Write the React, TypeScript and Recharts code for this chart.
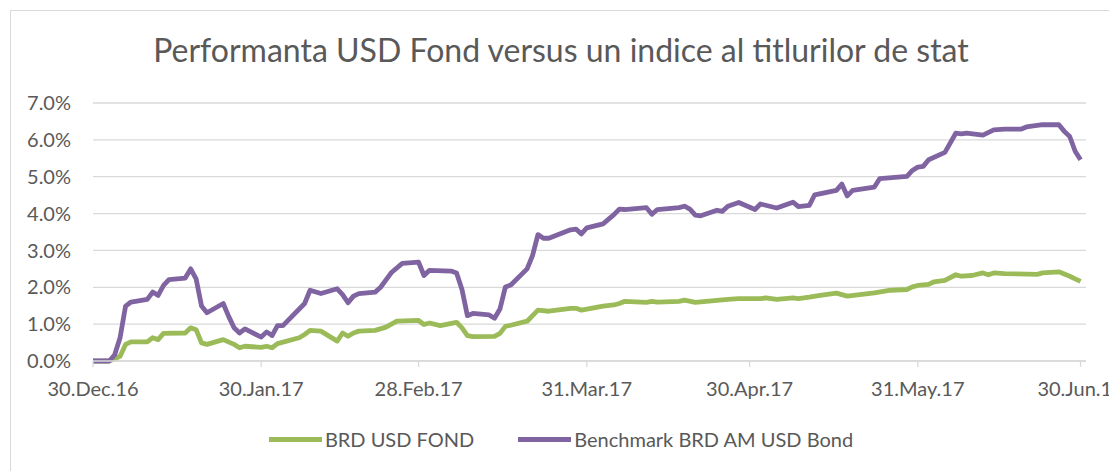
import React from "react";
import { LineChart, Line, XAxis, YAxis, CartesianGrid, Legend } from "recharts";

// days counted from 30.Dec.16, values in percent
const fondDays = [0, 3, 5, 6, 7, 10, 11, 12, 13, 17, 18, 19, 20, 21, 24, 26, 27, 28, 31, 32, 33, 34, 38, 39, 40, 42, 45, 46, 47, 48, 49, 52, 54, 56, 60, 61, 62, 64, 67, 68, 69, 70, 74, 75, 76, 77, 80, 82, 84, 88, 89, 90, 94, 96, 97, 98, 102, 103, 104, 108, 109, 111, 117, 119, 123, 124, 126, 129, 130, 132, 134, 137, 139, 144, 147, 150, 151, 152, 154, 155, 157, 159, 160, 162, 164, 165, 166, 168, 174, 175, 178, 180, 181, 182];
const fondValues = [0, 0, 0.13, 0.45, 0.52, 0.52, 0.63, 0.58, 0.75, 0.76, 0.9, 0.85, 0.49, 0.45, 0.58, 0.45, 0.36, 0.4, 0.37, 0.4, 0.36, 0.47, 0.63, 0.72, 0.83, 0.81, 0.54, 0.76, 0.67, 0.76, 0.81, 0.83, 0.92, 1.08, 1.1, 0.99, 1.03, 0.96, 1.05, 0.9, 0.69, 0.66, 0.67, 0.75, 0.94, 0.97, 1.08, 1.38, 1.35, 1.43, 1.43, 1.38, 1.49, 1.52, 1.56, 1.62, 1.59, 1.62, 1.6, 1.62, 1.65, 1.59, 1.67, 1.69, 1.69, 1.71, 1.67, 1.71, 1.69, 1.73, 1.78, 1.84, 1.76, 1.85, 1.92, 1.94, 2.01, 2.05, 2.08, 2.15, 2.19, 2.34, 2.3, 2.32, 2.39, 2.34, 2.39, 2.37, 2.35, 2.39, 2.42, 2.3, 2.23, 2.16];

const benchDays = [0, 3, 4, 5, 6, 7, 10, 11, 12, 13, 14, 17, 18, 19, 20, 21, 24, 25, 26, 27, 28, 31, 32, 33, 34, 35, 39, 40, 42, 45, 46, 47, 48, 49, 52, 53, 54, 55, 57, 60, 61, 62, 66, 67, 68, 69, 70, 73, 74, 75, 76, 77, 80, 81, 82, 83, 84, 88, 89, 90, 91, 94, 96, 97, 98, 102, 103, 104, 108, 109, 110, 111, 112, 115, 116, 117, 119, 122, 123, 126, 129, 130, 132, 133, 137, 138, 139, 140, 144, 145, 150, 151, 152, 153, 154, 157, 159, 160, 161, 164, 166, 168, 171, 172, 175, 178, 179, 180, 181, 182];
const benchValues = [0, 0, 0.17, 0.64, 1.49, 1.6, 1.67, 1.87, 1.78, 2.05, 2.21, 2.25, 2.5, 2.23, 1.49, 1.31, 1.56, 1.21, 0.9, 0.76, 0.87, 0.65, 0.79, 0.69, 0.96, 0.96, 1.56, 1.92, 1.83, 1.96, 1.8, 1.58, 1.76, 1.83, 1.87, 2.0, 2.2, 2.4, 2.65, 2.68, 2.32, 2.46, 2.44, 2.39, 1.94, 1.23, 1.29, 1.25, 1.16, 1.41, 2.01, 2.06, 2.5, 2.86, 3.43, 3.33, 3.33, 3.56, 3.58, 3.45, 3.61, 3.72, 3.97, 4.12, 4.11, 4.16, 3.98, 4.11, 4.16, 4.2, 4.12, 3.96, 3.94, 4.09, 4.06, 4.2, 4.3, 4.11, 4.26, 4.15, 4.31, 4.19, 4.22, 4.51, 4.63, 4.8, 4.48, 4.63, 4.72, 4.95, 5.01, 5.17, 5.26, 5.28, 5.46, 5.66, 6.18, 6.16, 6.18, 6.13, 6.27, 6.29, 6.29, 6.35, 6.41, 6.41, 6.23, 6.09, 5.69, 5.46];

const tickDays = [0, 31, 60, 91, 121, 152, 182];
const tickLabels = ["30.Dec.16", "30.Jan.17", "28.Feb.17", "31.Mar.17", "30.Apr.17", "31.May.17", "30.Jun.17"];
const yTicks = [0, 1, 2, 3, 4, 5, 6, 7];

const fondData = fondDays.map((d, i) => ({ day: d, value: fondValues[i] }));
const benchData = benchDays.map((d, i) => ({ day: d, value: benchValues[i] }));

const FONT = "Lato, 'Open Sans', sans-serif";
const TEXT = "#595959";
const GRID = "#d9d9d9";

const legendItems = [
  { name: "BRD USD FOND", color: "#9bbb59" },
  { name: "Benchmark BRD AM USD Bond", color: "#8064a2" },
];

function ChartLegend() {
  return (
    <div style={{ display: "flex", justifyContent: "center", alignItems: "center", height: 30, gap: 44, fontFamily: FONT, fontSize: 20, color: TEXT }}>
      {legendItems.map((it) => (
        <div key={it.name} style={{ display: "flex", alignItems: "center" }}>
          <span style={{ display: "inline-block", width: 53, height: 5, background: it.color, marginRight: 3 }} />
          <span>{it.name}</span>
        </div>
      ))}
    </div>
  );
}

export default function App() {
  return (
    <div style={{ position: "relative", marginLeft: 2, marginTop: 2, width: 1100, height: 470, border: `1px solid ${GRID}`, overflow: "hidden", background: "#fff" }}>
      <div style={{ position: "absolute", top: 20, left: 0, width: 1100, textAlign: "center", fontFamily: FONT, fontSize: 32, lineHeight: "38px", color: TEXT }}>
        Performanta USD Fond versus un indice al titlurilor de stat
      </div>
      <LineChart width={1100} height={470} margin={{ top: 92, right: 25, left: 0, bottom: 27 }}>
        <CartesianGrid vertical={false} stroke={GRID} strokeWidth={1.3} />
        <XAxis
          dataKey="day"
          type="number"
          domain={[0, 183]}
          ticks={tickDays}
          tickFormatter={(v) => tickLabels[tickDays.indexOf(v)]}
          height={63}
          stroke={GRID}
          strokeWidth={1.3}
          tickSize={6}
          tickMargin={15}
          tick={{ fill: TEXT, fontSize: 20, fontFamily: FONT }}
          interval={0}
        />
        <YAxis
          type="number"
          domain={[0, 7]}
          ticks={yTicks}
          tickFormatter={(v) => `${Number(v).toFixed(1)}%`}
          width={82}
          axisLine={false}
          tickLine={false}
          tickSize={0}
          tickMargin={22}
          tick={{ fill: TEXT, fontSize: 20, fontFamily: FONT }}
        />
        <Legend verticalAlign="bottom" content={() => <ChartLegend />} wrapperStyle={{ left: 0, width: 1100 }} />
        <Line data={fondData} dataKey="value" name="BRD USD FOND" type="linear" stroke="#9bbb59" strokeWidth={4.8} dot={false} strokeLinejoin="round" isAnimationActive={false} />
        <Line data={benchData} dataKey="value" name="Benchmark BRD AM USD Bond" type="linear" stroke="#8064a2" strokeWidth={4.8} dot={false} strokeLinejoin="round" isAnimationActive={false} />
      </LineChart>
    </div>
  );
}
